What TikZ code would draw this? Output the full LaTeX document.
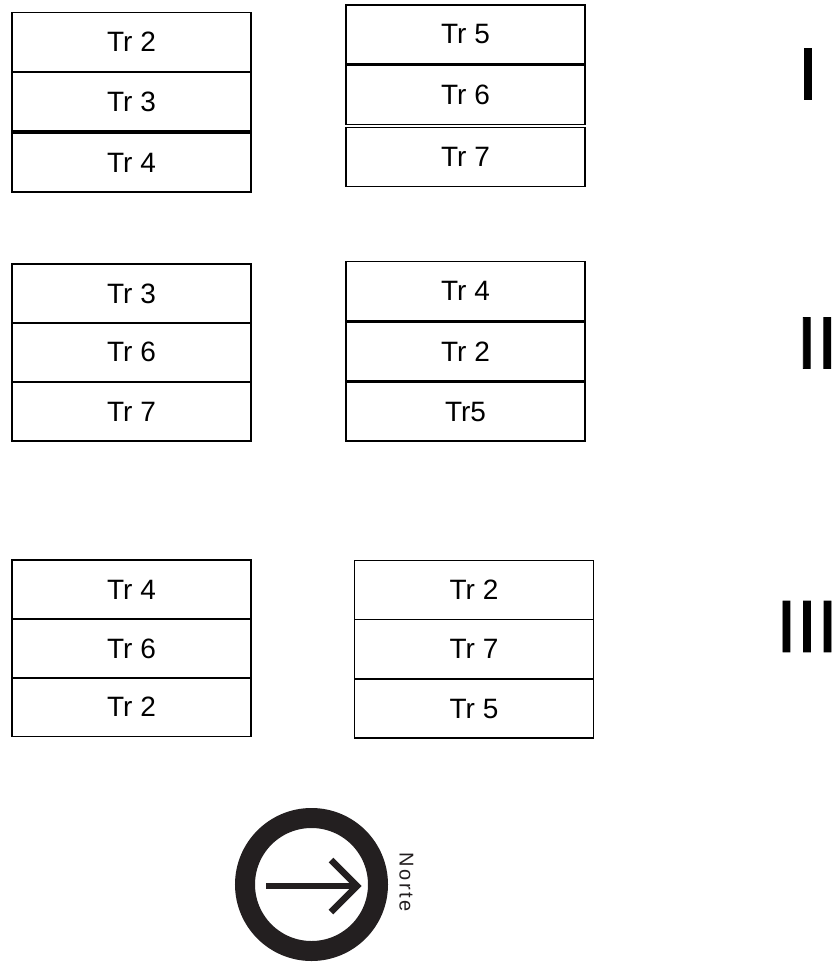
\documentclass[tikz,border=0pt]{standalone}
\usepackage{fontspec}
\setmainfont{Liberation Sans}
\newfontfamily\nortefont[LetterSpace=12]{Liberation Sans}
\newfontfamily\numfont[FakeBold=1.2]{Liberation Sans}
\usetikzlibrary{positioning}
\definecolor{inkdark}{HTML}{231F20}

\begin{document}
\begin{tikzpicture}[x=1pt, y=-1pt,
  trbox/.style={draw, line width=1.6pt, minimum width=239pt, minimum height=59pt, inner sep=0pt, font=\fontsize{28}{34}\selectfont},
  numeral/.style={inner sep=0pt, font=\numfont\fontsize{74}{80}\selectfont}]

\useasboundingbox (0,0) rectangle (835,964);

% Group I
\node[trbox] (ial) at (131.5,42) {Tr 2};
\node[trbox] (ibl) at (131.5,101.5) {Tr 3};
\node[trbox] (icl) at (131.5,162.5) {Tr 4};
\node[trbox] (iar) at (465.5,34.5) {Tr 5};
\node[trbox] (ibr) at (465.5,95) {Tr 6};
\node[trbox] (icr) at (465.5,157) {Tr 7};
\node[numeral] (nI) at (808,74) {I};

% Group II
\node[trbox] (iial) at (131.5,293.5) {Tr 3};
\node[trbox] (iibl) at (131.5,352) {Tr 6};
\node[trbox] (iicl) at (131.5,411.5) {Tr 7};
\node[trbox] (iiar) at (465.5,291) {Tr 4};
\node[trbox] (iibr) at (465.5,351.5) {Tr 2};
\node[trbox] (iicr) at (465.5,411.5) {Tr5};
\node[numeral] (nII) at (817,343) {II};

% Group III
\node[trbox] (iiial) at (131.5,589.5) {Tr 4};
\node[trbox] (iiibl) at (131.5,648.5) {Tr 6};
\node[trbox] (iiicl) at (131.5,707) {Tr 2};
\node[trbox] (iiiar) at (474,590) {Tr 2};
\node[trbox] (iiibr) at (474,649) {Tr 7};
\node[trbox] (iiicr) at (474,708.5) {Tr 5};
\node[numeral] (nIII) at (807,626.5) {III};

% North sign
\draw[inkdark, line width=20pt] (311.5,884.5) circle (66.5);
\draw[inkdark, line width=6pt] (266,886) -- (356,886);
\draw[inkdark, line width=6.5pt, line join=miter] (331,860) -- (357,886) -- (331,912);
\node[rotate=-90, inkdark, inner sep=0pt, font=\nortefont\fontsize{20}{22}\selectfont] (norte) at (406.5,882) {Norte};

\end{tikzpicture}
\end{document}
